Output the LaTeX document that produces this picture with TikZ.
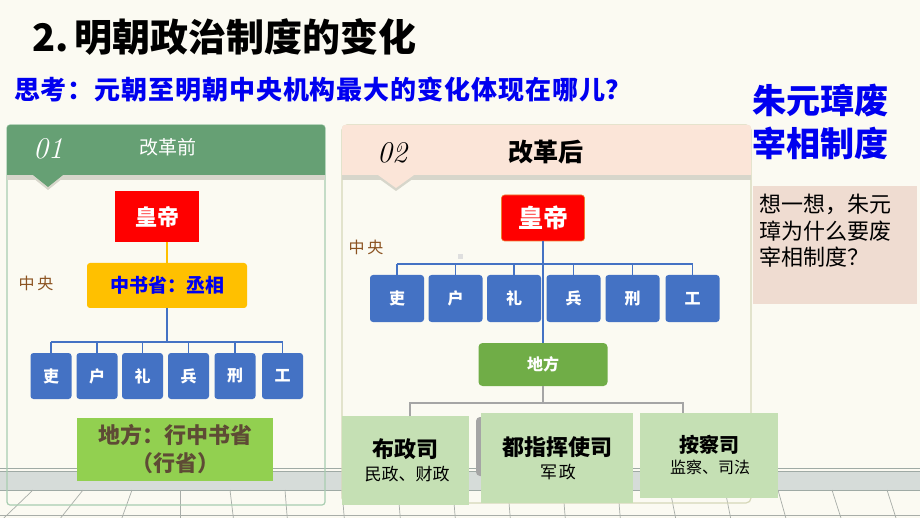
\documentclass[tikz,border=0pt]{standalone}
\usepackage{fontspec}
\newfontfamily\cjk{Noto Sans CJK SC}
\newfontfamily\cjkwide{Noto Sans CJK SC}[LetterSpace=3.5]
\definecolor{bg}{HTML}{FBFAF2}
\definecolor{hgreen}{HTML}{66A074}
\definecolor{hpink}{HTML}{FBE5D8}
\definecolor{pbordera}{HTML}{A8CDB0}
\definecolor{pborderb}{HTML}{D6D7B8}
\definecolor{bblue}{HTML}{4472C4}
\definecolor{byel}{HTML}{FFC000}
\definecolor{bgreen}{HTML}{92D050}
\definecolor{dgreen}{HTML}{70AD47}
\definecolor{lgreen}{HTML}{C5E0B4}
\definecolor{thinkbg}{HTML}{EFDCD1}
\definecolor{browna}{HTML}{8B5220}
\definecolor{brownd}{HTML}{5E4B35}
\definecolor{band}{HTML}{D6DCD9}
\definecolor{bandline}{HTML}{9FAAA5}
\definecolor{floorl}{HTML}{A8ADA8}
\definecolor{hshadow}{HTML}{D7D6CB}
\definecolor{tblue}{HTML}{0000F0}
\definecolor{glinec}{HTML}{A5A5A5}
\definecolor{bordero}{HTML}{ED7D31}
\begin{document}
\begin{tikzpicture}[x=1pt,y=-1pt,
  bx/.style={inner sep=0pt, outer sep=0pt},
  bluebox/.style={bx, fill=bblue, rounded corners=3pt, text=white, font=\cjk\bfseries\fontsize{16}{16}\selectfont},
  lblue/.style={bluebox, minimum width=41pt, minimum height=46pt},
  rblue/.style={bluebox, minimum width=54pt, minimum height=47pt},
  bl/.style={draw=bblue, line width=1.8pt},
  yl/.style={draw=byel, line width=1.8pt},
  gl/.style={draw=glinec, line width=2pt},
  lgbox/.style={bx, fill=lgreen},
  bigt/.style={bx, font=\cjk\bfseries\fontsize{22}{22}\selectfont},
  smt/.style={bx, font=\cjk\fontsize{16}{16}\selectfont},
  txt/.style={bx, anchor=west}]
\useasboundingbox (0,0) rectangle (920,518);
\fill[bg] (0,0) rectangle (920,518);
% floor band and tiles
\fill[band] (0,471) rectangle (920,490);
\draw[bandline, line width=0.8pt] (0,468) -- (920,468) (0,471) -- (920,471) (0,490) -- (920,490);
\foreach \a/\b in {33/7,83/63,132/123,180/180,230/233,285/287,342/344,398/400,453/455,508/510,563/565,618/620,670/675,725/730,778/785,832/840,887/895}
  \draw[floorl, line width=0.7pt] (\a,490) -- ++({(\b-\a)*28/25},28);
\draw[floorl, line width=0.7pt] (0,515) -- (920,515);
% title
\node[txt, font=\cjk\bfseries\fontsize{38}{38}\selectfont] (title) at (32,37) {2.\,明朝政治制度的变化};
\node[txt, text=tblue, font=\cjkwide\bfseries\fontsize{26}{26}\selectfont] (sub) at (14,90) {思考：元朝至明朝中央机构最大的变化体现在哪儿？};
\node[txt, text=tblue, font=\cjk\bfseries\fontsize{34}{34}\selectfont] (zya) at (752,101) {朱元璋废};
\node[txt, text=tblue, font=\cjk\bfseries\fontsize{34}{34}\selectfont] (zyb) at (752,143) {宰相制度};
% think box
\fill[thinkbg] (753,186) rectangle (917,304);
\node[txt, font=\cjk\fontsize{22}{22}\selectfont] (tha) at (759,204) {想一想，朱元};
\node[txt, font=\cjk\fontsize{22}{22}\selectfont] (thb) at (759,231) {璋为什么要废};
\node[txt, font=\cjk\fontsize{22}{22}\selectfont] (thc) at (759,257) {宰相制度？};
% ---------- left panel
\draw[pbordera, line width=1.2pt, rounded corners=3pt] (7,125) rectangle (325,505);
\fill[hgreen] (7,175) [rounded corners=3pt] -- (7,125) -- (325,125) [sharp corners] -- (325,175) -- cycle;
\fill[hshadow] (7,175) rectangle (325,180);
\fill[hshadow] (33,178) -- (63,178) -- (48,190) -- cycle;
\fill[hgreen] (33,175) -- (63,175) -- (48,187) -- cycle;
\node[bx, text=white, font=\itshape\fontsize{30}{30}\selectfont] (noa) at (48,149) {01};
\node[bx, text=white, font=\cjk\fontsize{19}{19}\selectfont] (gqa) at (168,147) {改革前};
\node[bx, fill=red, text=white, minimum width=84pt, minimum height=51pt, font=\cjk\bfseries\fontsize{22}{22}\selectfont] (hda) at (157,216.5) {皇帝};
\node[bx, fill=byel, rounded corners=3pt, text=tblue, minimum width=160pt, minimum height=45pt, font=\cjk\bfseries\fontsize{19}{19}\selectfont] (zsh) at (167,285.5) {中书省：丞相};
\node[bx, text=browna, font=\cjk\fontsize{16}{16}\selectfont] (zya1) at (36,283) {中\hspace{3pt}央};
\foreach \i/\x/\t in {1/51/吏,2/97/户,3/142.5/礼,4/188.5/兵,5/235/刑,6/282.5/工}
  \node[lblue] (lb\i) at (\x,376) {\t};
\coordinate (lbar) at (0,342);
\draw[yl] (hda.south -| zsh.north) -- (zsh.north);
\draw[bl] (zsh.south) -- (zsh.south |- lbar);
\draw[bl] (lb1.north |- lbar) -- (lb6.north |- lbar);
\foreach \i in {1,...,6} \draw[bl] (lb\i.north |- lbar) -- (lb\i.north);
\node[bx, fill=bgreen, minimum width=196pt, minimum height=63pt, text=brownd, align=center, font=\cjk\bfseries\fontsize{22}{28}\selectfont] (xs) at (175,449.5) {地方：行中书省\\（行省）};
% ---------- right panel
\draw[pborderb, line width=1.2pt, rounded corners=5pt] (342,125) rectangle (751,503);
\fill[hpink] (342,175) [rounded corners=3pt] -- (342,125) -- (751,125) [sharp corners] -- (751,175) -- cycle;
\fill[hshadow] (342,175) rectangle (751,180);
\fill[hshadow] (378,178) -- (414,178) -- (396,191) -- cycle;
\fill[hpink] (378,175) -- (414,175) -- (396,188) -- cycle;
\node[bx, font=\itshape\fontsize{30}{30}\selectfont] (nob) at (392,153) {02};
\node[bx, font=\cjk\bfseries\fontsize{25}{25}\selectfont] (gqb) at (546,152) {改革后};
\node[bx, fill=red, draw=bordero, line width=0.6pt, rounded corners=3pt, text=white, minimum width=83pt, minimum height=46pt, font=\cjk\bfseries\fontsize{25}{25}\selectfont] (hdb) at (543,218) {皇帝};
\node[bx, text=browna, font=\cjk\fontsize{16}{16}\selectfont] (zyb1) at (366,247) {中\hspace{3pt}央};
\fill[gray!25] (458,254) rectangle (463,259);
\foreach \i/\x/\t in {1/397/吏,2/455.5/户,3/514/礼,4/573.5/兵,5/632.5/刑,6/692.5/工}
  \node[rblue] (rb\i) at (\x,298.5) {\t};
\node[bx, fill=dgreen, rounded corners=4pt, text=white, minimum width=129pt, minimum height=43pt, font=\cjk\bfseries\fontsize{16}{16}\selectfont] (dfang) at (543,364.5) {地方};
\coordinate (rbar) at (0,264);
\draw[bl] (hdb.south) -- (dfang.north);
\draw[bl] (rb1.north |- rbar) -- (rb6.north |- rbar);
\foreach \i in {1,...,6} \draw[bl] (rb\i.north |- rbar) -- (rb\i.north);
% local offices
\fill[glinec, rounded corners=4pt] (476,417) rectangle (560,476);
\node[lgbox, minimum width=127pt, minimum height=89pt] (bz) at (405.5,460.5) {};
\node[lgbox, minimum width=152pt, minimum height=90pt] (dz) at (557,458) {};
\node[lgbox, minimum width=138pt, minimum height=85pt] (acs) at (709,455.5) {};
\coordinate (gbar) at (0,403);
\coordinate (ga) at (410,403);
\coordinate (gc) at (683,403);
\draw[gl] (dfang.south) -- (dfang.south |- gbar);
\draw[gl] (ga |- bz.north) -- (ga) -- (gc) -- (gc |- acs.north);
\node[bigt] (bza) at (405.5,449) {布政司};
\node[smt, font=\cjk\fontsize{17}{17}\selectfont] (bzb) at (407,474) {民政、财政};
\node[bigt] (dza) at (557,447) {都指挥使司};
\node[smt, font=\cjk\fontsize{17}{17}\selectfont] (dzb) at (558,472) {军\hspace{2pt}政};
\node[bigt, font=\cjk\bfseries\fontsize{20}{20}\selectfont] (acsa) at (709,445) {按察司};
\node[smt] (acsb) at (710,467) {监察、司法};
\end{tikzpicture}
\end{document}
